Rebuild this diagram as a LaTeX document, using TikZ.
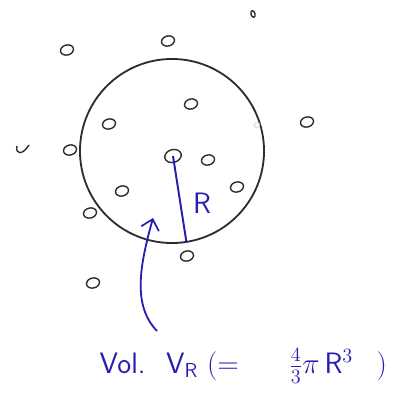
\documentclass[tikz,border=0pt]{standalone}
\usepackage{xcolor}
\usepackage{tikz}
\usetikzlibrary{positioning,calc,shapes.geometric,arrows.meta}

\definecolor{pen}{RGB}{38,30,178}
\definecolor{pencil}{RGB}{45,45,45}

\begin{document}
\begin{tikzpicture}[
x=0.025cm, y=-0.025cm,
font=\sffamily,
particle/.style={ellipse, draw=pencil, line width=1pt, inner sep=0pt, minimum width=0.33cm, minimum height=0.25cm, rotate=15},
sphere/.style={circle, draw=pencil, line width=1.3pt, minimum size=4.6cm, inner sep=0pt},
radius_line/.style={pen, line width=1.4pt},
arrow/.style={-{Straight Barb[length=7pt, width=13pt, line width=1.2pt]}, pen, line width=1.3pt},
handwriting/.style={text=pen, font=\sffamily\fontsize{21}{24}\selectfont, inner sep=1pt}
]
\useasboundingbox (0,0) rectangle (398,395);

% --- SAMPLING SPHERE ---
\node[sphere] (sphere) at (172,151) {};

% --- PARTICLES ---
\node[particle, minimum width=0.42cm, minimum height=0.32cm] (centre) at (173,156) {};
\foreach \px/\py [count=\i] in {67/50, 168/41, 191/104, 109/124, 307/122, 70/150, 208/160,
  122/191, 237/187, 90/213, 187/256, 93/283}
  \node[particle] (p\i) at (\px,\py) {};
\node[particle, minimum width=0.1cm, minimum height=0.17cm, rotate=0] (far) at (253,14) {};
\node[particle, draw=gray!40, line width=0.5pt, minimum width=0.15cm, minimum height=0.12cm] (faint) at (257,125) {};
\draw[pencil, line width=1pt] (17,146) .. controls (15,154) and (22,156) .. (29,145);

% --- RADIUS ---
\draw[radius_line] (centre.center) -- (sphere.-81);
\node[handwriting] (rlabel) at (202,203) {R};

% --- VOLUME LABEL ---
\node[handwriting, anchor=west] (volume) at (98,366)
  {Vol.\hspace{0.7em}V$_{\mathsf{R}}$\hspace{0.3em}$\Bigl($=\hspace{1.7em}$\frac{4}{3}\pi$\,R$^{3}$\hspace{0.8em}$\Bigr)$};
\coordinate (tail) at (157,331);
\coordinate (tip) at (153,218);
\draw[arrow] (tail) .. controls (132,305) and (140,265) .. (tip);

\end{tikzpicture}
\end{document}
